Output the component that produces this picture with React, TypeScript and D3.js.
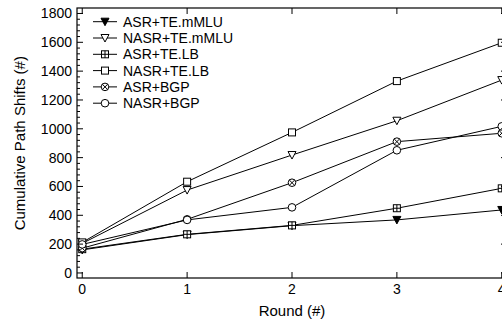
import React from "react";
import * as d3 from "d3";

const rounds = [0, 1, 2, 3, 4];
const seriesNames = ["ASR+TE.mMLU", "NASR+TE.mMLU", "ASR+TE.LB", "NASR+TE.LB", "ASR+BGP", "NASR+BGP"];
const asrTeMmlu = [160, 266, 328, 368, 437];
const nasrTeMmlu = [205, 575, 818, 1056, 1338];
const asrTeLb = [165, 268, 330, 449, 587];
const nasrTeLb = [212, 633, 975, 1331, 1597];
const asrBgp = [172, 372, 626, 911, 969];
const nasrBgp = [198, 368, 455, 851, 1017];
const yTicks = [0, 200, 400, 600, 800, 1000, 1200, 1400, 1600, 1800];

const allSeries = [asrTeMmlu, nasrTeMmlu, asrTeLb, nasrTeLb, asrBgp, nasrBgp];
const markerKinds = ["triFill", "tri", "sqPlus", "sq", "circX", "circ"];

const font = "'Liberation Sans', Arial, Helvetica, sans-serif";

function Marker({ kind, x, y }: { kind: string; x: number; y: number }) {
  const s = 3.5;
  const stroke = "#000";
  if (kind === "triFill" || kind === "tri") {
    const h = 4;
    const pts = `${x - h},${y - h + 0.5} ${x + h},${y - h + 0.5} ${x},${y + h}`;
    return <polygon points={pts} fill={kind === "triFill" ? "#000" : "#fff"} stroke={stroke} strokeWidth={1} />;
  }
  if (kind === "sq" || kind === "sqPlus") {
    return (
      <g>
        <rect x={x - s} y={y - s} width={2 * s} height={2 * s} fill="#fff" stroke={stroke} strokeWidth={1} />
        {kind === "sqPlus" && (
          <path d={`M${x - s},${y}H${x + s}M${x},${y - s}V${y + s}`} stroke={stroke} strokeWidth={1} />
        )}
      </g>
    );
  }
  const r = 3.8;
  const d = r * 0.7;
  return (
    <g>
      <circle cx={x} cy={y} r={r} fill="#fff" stroke={stroke} strokeWidth={1} />
      {kind === "circX" && (
        <path d={`M${x - d},${y - d}L${x + d},${y + d}M${x - d},${y + d}L${x + d},${y - d}`} stroke={stroke} strokeWidth={1} />
      )}
    </g>
  );
}

export default function App() {
  const width = 502, height = 320;
  const left = 77, right = 507, top = 8, bottom = 278;

  const x = d3.scaleLinear().domain([-0.05, 4.05]).range([left, right]);
  const y = d3.scaleLinear().domain([-35, 1838]).range([bottom, top]);

  const line = d3.line<number>()
    .x((_, i) => x(rounds[i]))
    .y(d => y(d));

  const minor = d3.range(0, 1840, 40).filter(v => v % 200 !== 0);

  return (
    <svg width={width} height={height} style={{ position: "absolute", left: 0, top: 0, background: "#fff" }}>
      <rect x={0} y={0} width={width} height={height} fill="#fff" />

      {/* series lines */}
      {allSeries.map((s, i) => (
        <path key={"l" + i} d={line(s) || ""} fill="none" stroke="#000" strokeWidth={1} />
      ))}
      {allSeries.map((s, i) =>
        s.map((v, j) => <Marker key={`m${i}-${j}`} kind={markerKinds[i]} x={x(rounds[j])} y={y(v)} />)
      )}

      {/* frame */}
      <rect x={left} y={top} width={right - left} height={bottom - top} fill="none" stroke="#000" strokeWidth={1.2} />

      {/* y ticks */}
      {yTicks.map(t => (
        <g key={"yt" + t}>
          <line x1={left} x2={left + 6} y1={y(t)} y2={y(t)} stroke="#000" />
          <line x1={right} x2={right - 6} y1={y(t)} y2={y(t)} stroke="#000" />
          <text x={left - 5} y={y(t)} dy="0.35em" textAnchor="end" fontFamily={font} fontSize={14}>{t}</text>
        </g>
      ))}
      {minor.map(t => (
        <g key={"ym" + t}>
          <line x1={left} x2={left + 3} y1={y(t)} y2={y(t)} stroke="#000" />
          <line x1={right} x2={right - 3} y1={y(t)} y2={y(t)} stroke="#000" />
        </g>
      ))}

      {/* x ticks */}
      {rounds.map(r => (
        <g key={"xt" + r}>
          <line x1={x(r)} x2={x(r)} y1={bottom} y2={bottom - 6} stroke="#000" />
          <line x1={x(r)} x2={x(r)} y1={top} y2={top + 6} stroke="#000" />
          <text x={x(r)} y={294} textAnchor="middle" fontFamily={font} fontSize={14}>{r}</text>
        </g>
      ))}

      {/* axis titles */}
      <text x={(left + right) / 2} y={316} textAnchor="middle" fontFamily={font} fontSize={15}>Round (#)</text>
      <text transform={`translate(20,${(y(0) + y(1800)) / 2}) rotate(-90)`} dy="0.35em" textAnchor="middle" fontFamily={font} fontSize={15}>
        Cumulative Path Shifts (#)
      </text>

      {/* legend */}
      {seriesNames.map((name, i) => {
        const ly = 21.7 + i * 16.3;
        return (
          <g key={"lg" + i}>
            <line x1={93} x2={117} y1={ly} y2={ly} stroke="#000" />
            <Marker kind={markerKinds[i]} x={105} y={ly} />
            <text x={123} y={ly} dy="0.35em" fontFamily={font} fontSize={14}>{name}</text>
          </g>
        );
      })}
    </svg>
  );
}
